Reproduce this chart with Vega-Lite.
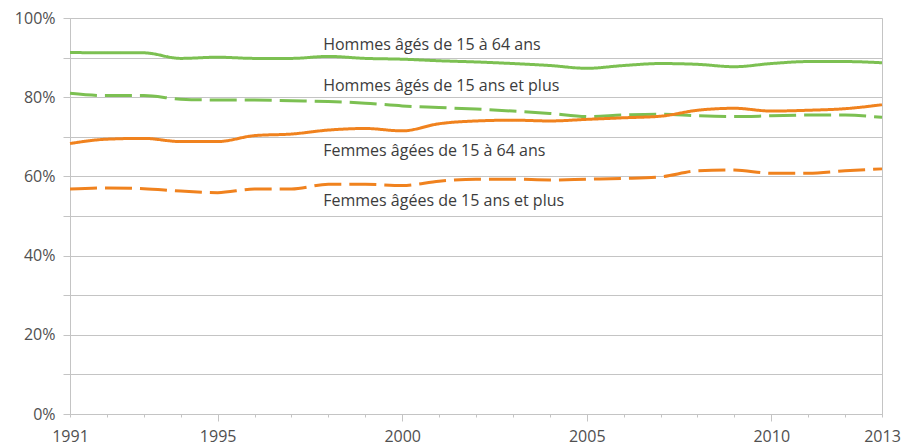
{
  "$schema": "https://vega.github.io/schema/vega-lite/v6.json",
  "width": 812,
  "height": 396,
  "autosize": {"type": "none"},
  "padding": {"left": 70, "top": 18, "right": 19, "bottom": 32},
  "background": "white",
  "config": {
    "view": {"stroke": "#c4c4c4", "strokeWidth": 1},
    "font": "Open Sans",
    "axis": {"labelFont": "Open Sans", "labelColor": "#505050", "labelFontSize": 16, "domainColor": "#c4c4c4", "tickColor": "#c4c4c4", "gridColor": "#c4c4c4", "title": null}
  },
  "datasets": {
    "series": [
      {"serie": "H1564", "year": 1991, "value": 91.3},
      {"serie": "H1564", "year": 1992, "value": 91.2},
      {"serie": "H1564", "year": 1993, "value": 91.2},
      {"serie": "H1564", "year": 1994, "value": 89.8},
      {"serie": "H1564", "year": 1995, "value": 90.1},
      {"serie": "H1564", "year": 1996, "value": 89.8},
      {"serie": "H1564", "year": 1997, "value": 89.8},
      {"serie": "H1564", "year": 1998, "value": 90.3},
      {"serie": "H1564", "year": 1999, "value": 89.8},
      {"serie": "H1564", "year": 2000, "value": 89.6},
      {"serie": "H1564", "year": 2001, "value": 89.2},
      {"serie": "H1564", "year": 2002, "value": 88.9},
      {"serie": "H1564", "year": 2003, "value": 88.5},
      {"serie": "H1564", "year": 2004, "value": 88.0},
      {"serie": "H1564", "year": 2005, "value": 87.3},
      {"serie": "H1564", "year": 2006, "value": 88.0},
      {"serie": "H1564", "year": 2007, "value": 88.5},
      {"serie": "H1564", "year": 2008, "value": 88.3},
      {"serie": "H1564", "year": 2009, "value": 87.7},
      {"serie": "H1564", "year": 2010, "value": 88.5},
      {"serie": "H1564", "year": 2011, "value": 89.0},
      {"serie": "H1564", "year": 2012, "value": 89.0},
      {"serie": "H1564", "year": 2013, "value": 88.7},
      {"serie": "H15p", "year": 1991, "value": 81.0},
      {"serie": "H15p", "year": 1992, "value": 80.4},
      {"serie": "H15p", "year": 1993, "value": 80.4},
      {"serie": "H15p", "year": 1994, "value": 79.5},
      {"serie": "H15p", "year": 1995, "value": 79.3},
      {"serie": "H15p", "year": 1996, "value": 79.3},
      {"serie": "H15p", "year": 1997, "value": 79.1},
      {"serie": "H15p", "year": 1998, "value": 78.9},
      {"serie": "H15p", "year": 1999, "value": 78.5},
      {"serie": "H15p", "year": 2000, "value": 77.8},
      {"serie": "H15p", "year": 2001, "value": 77.4},
      {"serie": "H15p", "year": 2002, "value": 77.0},
      {"serie": "H15p", "year": 2003, "value": 76.5},
      {"serie": "H15p", "year": 2004, "value": 75.9},
      {"serie": "H15p", "year": 2005, "value": 75.1},
      {"serie": "H15p", "year": 2006, "value": 75.5},
      {"serie": "H15p", "year": 2007, "value": 75.7},
      {"serie": "H15p", "year": 2008, "value": 75.3},
      {"serie": "H15p", "year": 2009, "value": 75.1},
      {"serie": "H15p", "year": 2010, "value": 75.3},
      {"serie": "H15p", "year": 2011, "value": 75.5},
      {"serie": "H15p", "year": 2012, "value": 75.5},
      {"serie": "H15p", "year": 2013, "value": 74.9},
      {"serie": "F1564", "year": 1991, "value": 68.3},
      {"serie": "F1564", "year": 1992, "value": 69.4},
      {"serie": "F1564", "year": 1993, "value": 69.6},
      {"serie": "F1564", "year": 1994, "value": 68.8},
      {"serie": "F1564", "year": 1995, "value": 68.8},
      {"serie": "F1564", "year": 1996, "value": 70.3},
      {"serie": "F1564", "year": 1997, "value": 70.7},
      {"serie": "F1564", "year": 1998, "value": 71.7},
      {"serie": "F1564", "year": 1999, "value": 72.1},
      {"serie": "F1564", "year": 2000, "value": 71.5},
      {"serie": "F1564", "year": 2001, "value": 73.3},
      {"serie": "F1564", "year": 2002, "value": 74.0},
      {"serie": "F1564", "year": 2003, "value": 74.2},
      {"serie": "F1564", "year": 2004, "value": 74.0},
      {"serie": "F1564", "year": 2005, "value": 74.4},
      {"serie": "F1564", "year": 2006, "value": 74.8},
      {"serie": "F1564", "year": 2007, "value": 75.2},
      {"serie": "F1564", "year": 2008, "value": 76.7},
      {"serie": "F1564", "year": 2009, "value": 77.2},
      {"serie": "F1564", "year": 2010, "value": 76.5},
      {"serie": "F1564", "year": 2011, "value": 76.7},
      {"serie": "F1564", "year": 2012, "value": 77.1},
      {"serie": "F1564", "year": 2013, "value": 78.1},
      {"serie": "F15p", "year": 1991, "value": 56.8},
      {"serie": "F15p", "year": 1992, "value": 57.1},
      {"serie": "F15p", "year": 1993, "value": 56.9},
      {"serie": "F15p", "year": 1994, "value": 56.3},
      {"serie": "F15p", "year": 1995, "value": 55.9},
      {"serie": "F15p", "year": 1996, "value": 56.8},
      {"serie": "F15p", "year": 1997, "value": 56.8},
      {"serie": "F15p", "year": 1998, "value": 58.0},
      {"serie": "F15p", "year": 1999, "value": 58.0},
      {"serie": "F15p", "year": 2000, "value": 57.7},
      {"serie": "F15p", "year": 2001, "value": 58.8},
      {"serie": "F15p", "year": 2002, "value": 59.3},
      {"serie": "F15p", "year": 2003, "value": 59.3},
      {"serie": "F15p", "year": 2004, "value": 59.1},
      {"serie": "F15p", "year": 2005, "value": 59.3},
      {"serie": "F15p", "year": 2006, "value": 59.5},
      {"serie": "F15p", "year": 2007, "value": 59.9},
      {"serie": "F15p", "year": 2008, "value": 61.4},
      {"serie": "F15p", "year": 2009, "value": 61.6},
      {"serie": "F15p", "year": 2010, "value": 60.8},
      {"serie": "F15p", "year": 2011, "value": 60.8},
      {"serie": "F15p", "year": 2012, "value": 61.4},
      {"serie": "F15p", "year": 2013, "value": 61.9}
    ],
    "labels": [
      {"year": 1997.86, "value": 93.2, "text": "Hommes âgés de 15 à 64 ans"},
      {"year": 1997.86, "value": 82.9, "text": "Hommes âgés de 15 ans et plus"},
      {"year": 1997.86, "value": 66.4, "text": "Femmes âgées de 15 à 64 ans"},
      {"year": 1997.86, "value": 53.8, "text": "Femmes âgées de 15 ans et plus"}
    ]
  },
  "layer": [
    {
      "data": {"name": "series"},
      "mark": {"type": "line", "strokeWidth": 3, "interpolate": "monotone", "strokeCap": "butt"},
      "encoding": {
        "x": {
          "field": "year", "type": "quantitative",
          "scale": {"domain": [1991, 2013], "nice": false, "zero": false},
          "axis": {
            "values": [1991,1992,1993,1994,1995,1996,1997,1998,1999,2000,2001,2002,2003,2004,2005,2006,2007,2008,2009,2010,2011,2012,2013],
            "labelExpr": "indexof([1991,1995,2000,2005,2010,2013], datum.value) >= 0 ? '' + datum.value : ''",
            "grid": false,
            "tickSize": {"condition": {"test": "indexof([1995,2000,2005,2010], datum.value) >= 0", "value": 7}, "value": 3},
            "labelPadding": {"condition": {"test": "indexof([1995,2000,2005,2010], datum.value) >= 0", "value": 7}, "value": 11},
            "labelFlush": false,
            "labelOverlap": false,
            "labelBound": false
          }
        },
        "y": {
          "field": "value", "type": "quantitative",
          "scale": {"domain": [0, 100], "nice": false},
          "axis": {
            "values": [0,10,20,30,40,50,60,70,80,90,100],
            "labelExpr": "datum.value % 20 == 0 ? datum.value + '%' : ''",
            "grid": true,
            "tickSize": 7,
            "labelPadding": 8,
            "labelOverlap": false
          }
        },
        "color": {
          "field": "serie", "type": "nominal",
          "scale": {"domain": ["H1564", "H15p", "F1564", "F15p"], "range": ["#7cc052", "#7cc052", "#f0821e", "#f0821e"]},
          "legend": null
        },
        "strokeDash": {
          "field": "serie", "type": "nominal",
          "scale": {"domain": ["H1564", "H15p", "F1564", "F15p"], "range": [[1, 0], [27, 8], [1, 0], [27, 8]]},
          "legend": null
        }
      }
    },
    {
      "data": {"name": "labels"},
      "mark": {"type": "text", "align": "left", "baseline": "middle", "font": "Open Sans", "fontSize": 16, "color": "#3c3c3c"},
      "encoding": {
        "x": {
          "field": "year", "type": "quantitative",
          "axis": {
            "values": [1991,1992,1993,1994,1995,1996,1997,1998,1999,2000,2001,2002,2003,2004,2005,2006,2007,2008,2009,2010,2011,2012,2013],
            "labelExpr": "indexof([1991,1995,2000,2005,2010,2013], datum.value) >= 0 ? '' + datum.value : ''",
            "grid": false,
            "tickSize": {"condition": {"test": "indexof([1995,2000,2005,2010], datum.value) >= 0", "value": 7}, "value": 3},
            "labelPadding": {"condition": {"test": "indexof([1995,2000,2005,2010], datum.value) >= 0", "value": 7}, "value": 11},
            "labelFlush": false,
            "labelOverlap": false,
            "labelBound": false
          }
        },
        "y": {
          "field": "value", "type": "quantitative",
          "axis": {
            "values": [0,10,20,30,40,50,60,70,80,90,100],
            "labelExpr": "datum.value % 20 == 0 ? datum.value + '%' : ''",
            "grid": true,
            "tickSize": 7,
            "labelPadding": 8,
            "labelOverlap": false
          }
        },
        "text": {"field": "text"}
      }
    }
  ]
}
